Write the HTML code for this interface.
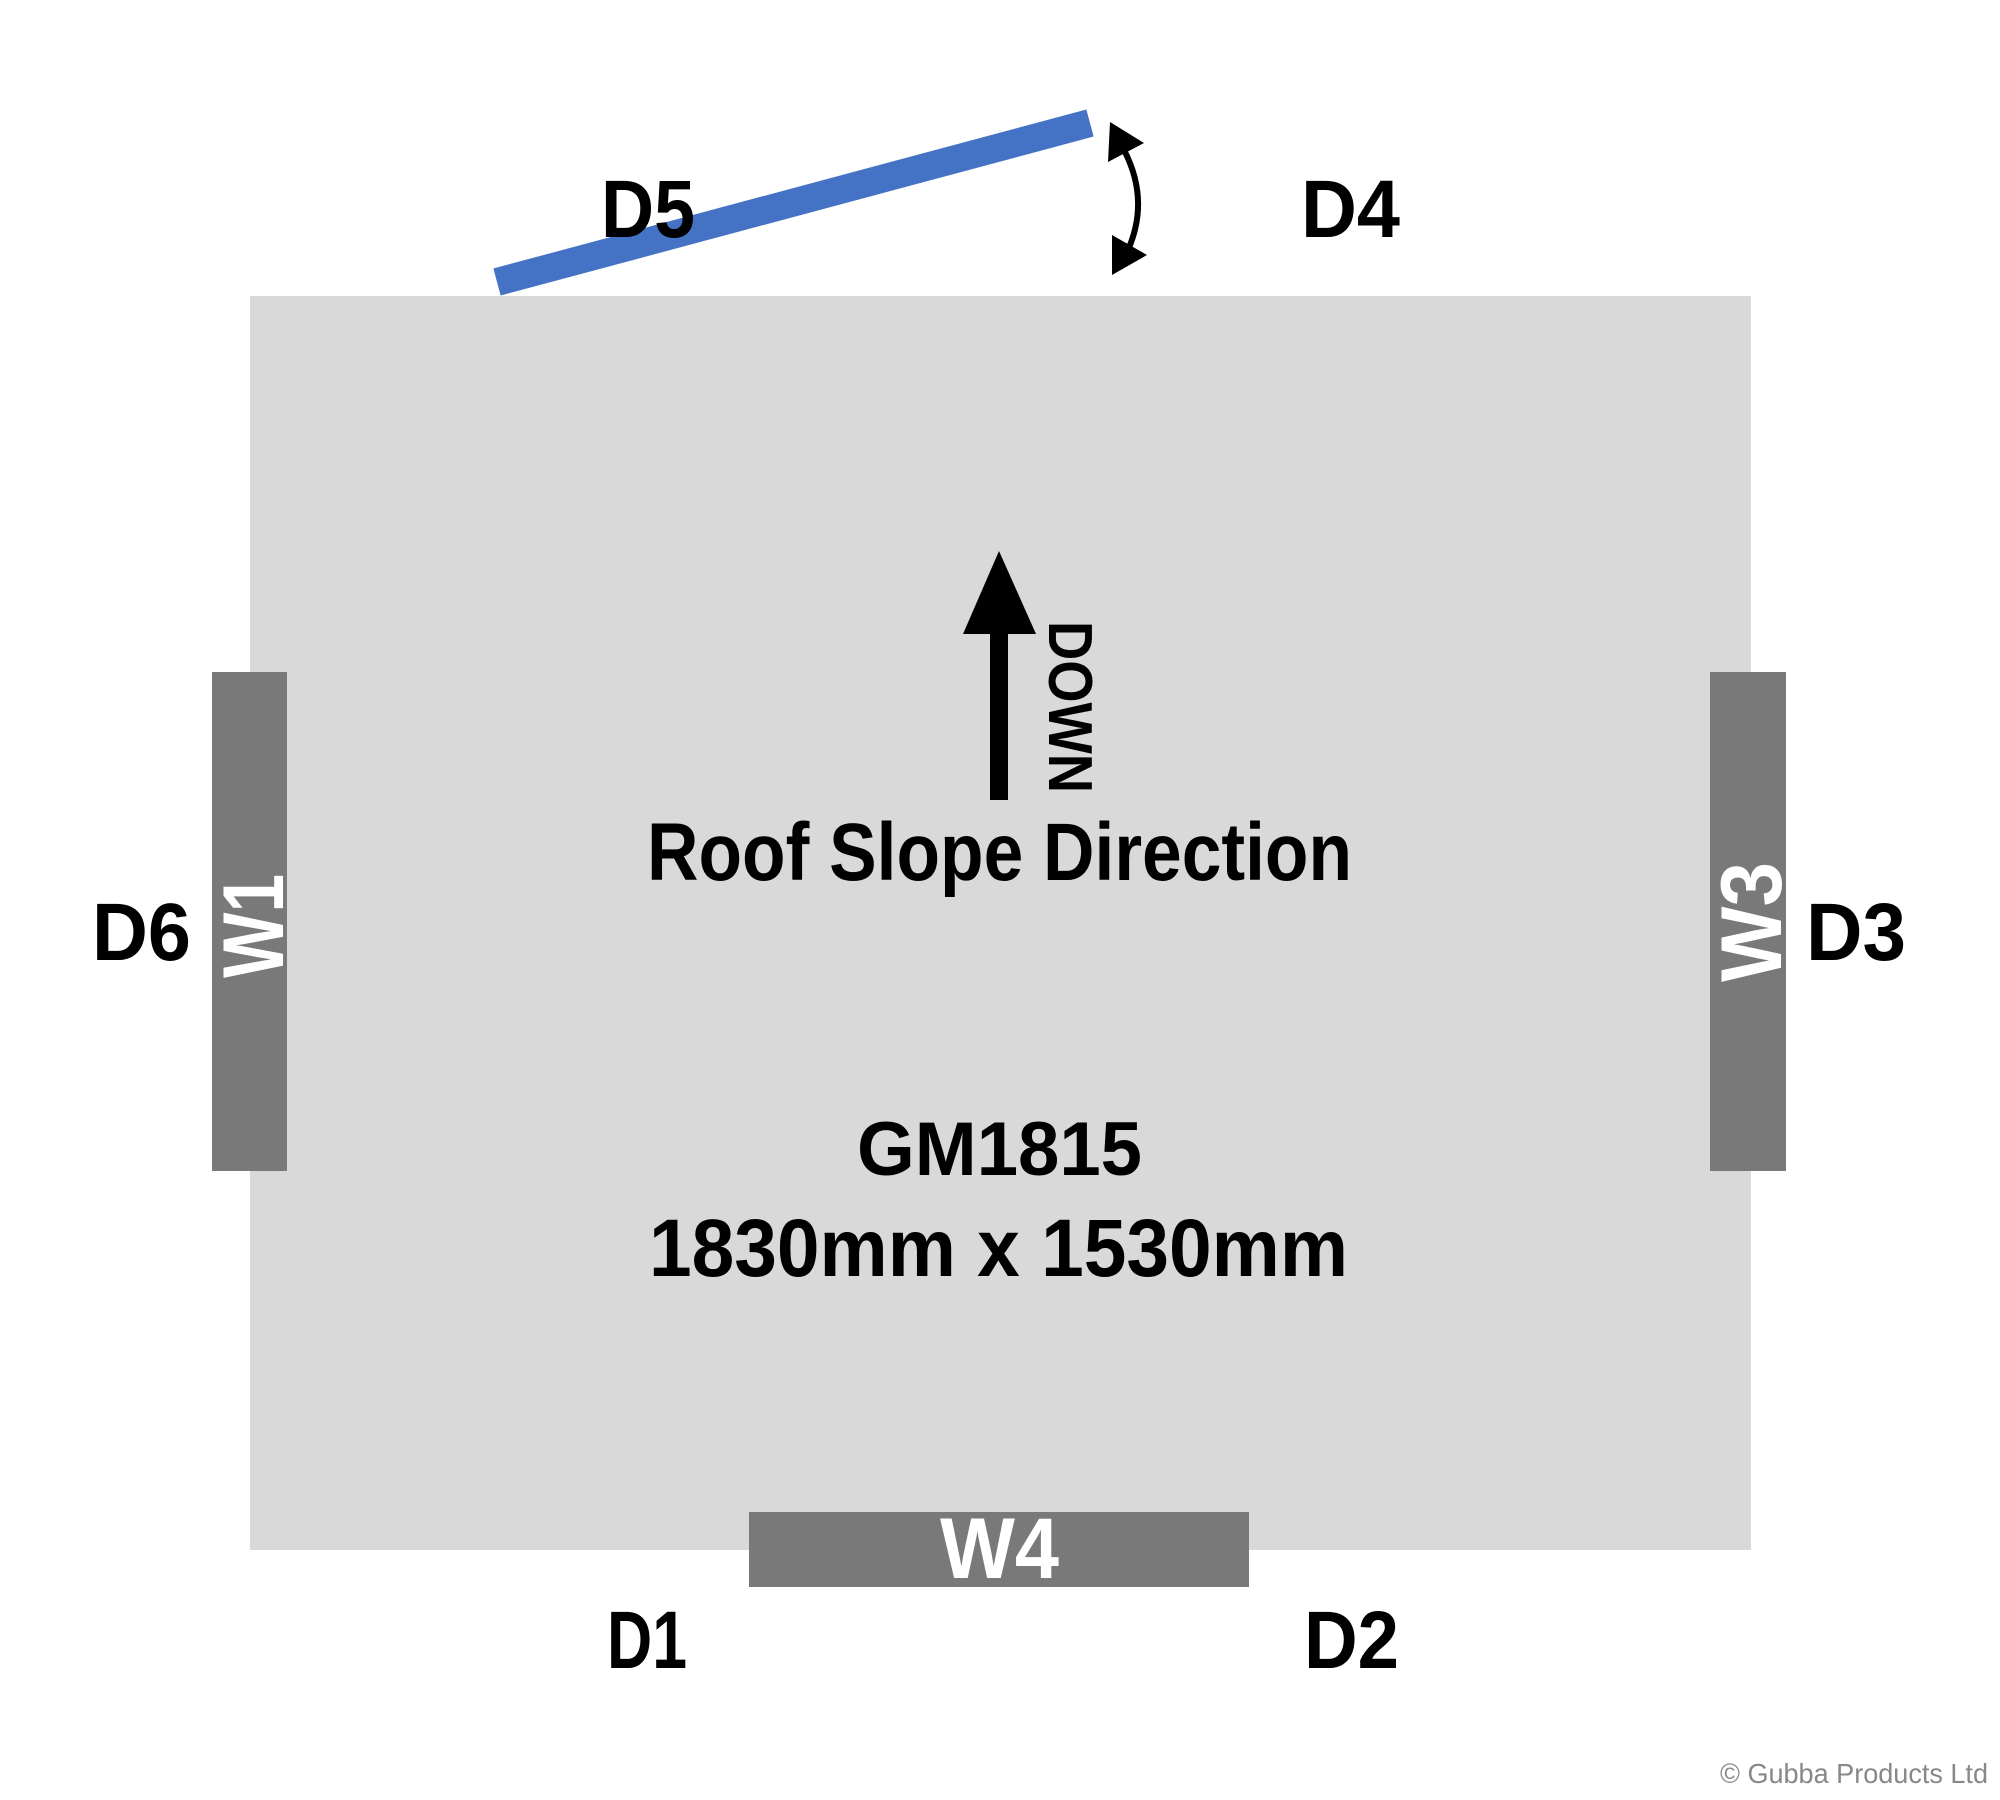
<!DOCTYPE html>
<html><head><meta charset="utf-8"><style>html,body{margin:0;padding:0;background:#fff}svg{display:block}</style></head><body>
<svg width="2000" height="1800" viewBox="0 0 2000 1800" xmlns="http://www.w3.org/2000/svg" font-family="Liberation Sans, Arial, sans-serif" font-weight="bold">
<rect x="250" y="296" width="1501" height="1254" fill="#d9d9d9"/>
<rect x="212" y="672" width="75" height="499" fill="#797979"/>
<rect x="1710" y="672" width="76" height="499" fill="#797979"/>
<rect x="749" y="1512" width="500" height="75" fill="#797979"/>
<line x1="497" y1="282" x2="1090" y2="123" stroke="#4472c4" stroke-width="28"/>
<path d="M1124,150 Q1150,200 1128,250" fill="none" stroke="#000" stroke-width="6"/>
<polygon points="1110,122 1144,143 1108,162" fill="#000"/>
<polygon points="1112,275 1147,255 1112,235" fill="#000"/>
<rect x="990" y="630" width="18" height="170" fill="#000"/>
<polygon points="999,551 963,634 1036,634" fill="#000"/>
<g fill="#000" font-size="82">
<text x="601" y="237" textLength="94" lengthAdjust="spacingAndGlyphs">D5</text>
<text x="1301" y="237" textLength="99" lengthAdjust="spacingAndGlyphs">D4</text>
<text x="607" y="1668" textLength="80" lengthAdjust="spacingAndGlyphs">D1</text>
<text x="1304" y="1668" textLength="95" lengthAdjust="spacingAndGlyphs">D2</text>
<text x="92" y="960" textLength="99" lengthAdjust="spacingAndGlyphs">D6</text>
<text x="1806" y="960" textLength="100" lengthAdjust="spacingAndGlyphs">D3</text>
<text x="647" y="880" textLength="705" lengthAdjust="spacingAndGlyphs">Roof Slope Direction</text>
<text x="857" y="1175" font-size="76" textLength="285" lengthAdjust="spacingAndGlyphs">GM1815</text>
<text x="649" y="1276" textLength="699" lengthAdjust="spacingAndGlyphs">1830mm x 1530mm</text>
<text transform="translate(1071,707) rotate(90)" x="0" y="22" font-size="62" text-anchor="middle" textLength="172" lengthAdjust="spacingAndGlyphs">DOWN</text>
</g>
<g fill="#fff" font-size="86">
<text transform="translate(252,926) rotate(-90)" x="0" y="31" text-anchor="middle" textLength="104" lengthAdjust="spacingAndGlyphs">W1</text>
<text transform="translate(1749,922) rotate(-90)" x="0" y="32" text-anchor="middle" textLength="120" lengthAdjust="spacingAndGlyphs">W3</text>
<text x="940" y="1578" textLength="119" lengthAdjust="spacingAndGlyphs">W4</text>
</g>
<text x="1720" y="1783" font-size="28" font-weight="normal" fill="#888" textLength="268" lengthAdjust="spacingAndGlyphs">© Gubba Products Ltd</text>
</svg>
</body></html>
